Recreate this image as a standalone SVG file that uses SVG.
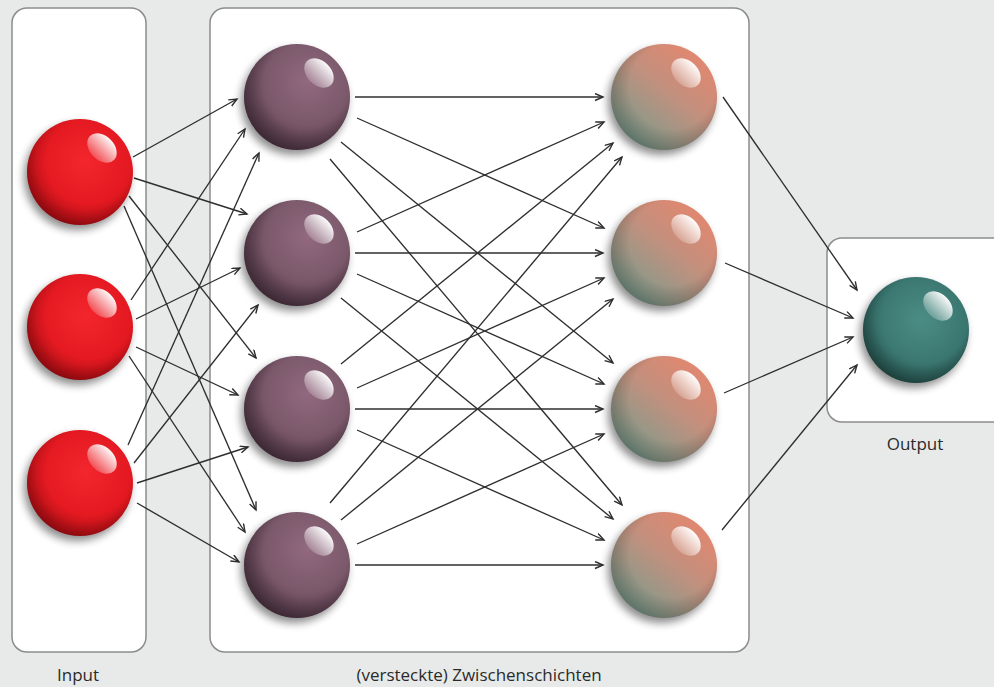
<svg xmlns="http://www.w3.org/2000/svg" width="994" height="687" viewBox="0 0 994 687">
<style>
.box{fill:#ffffff;stroke:#8c8c8c;stroke-width:1.5}
.c{stroke:#2e2e2e;stroke-width:1.35;fill:none;marker-end:url(#arr)}
.lbl{font-family:"Open Sans","Noto Sans","Liberation Sans",sans-serif;font-size:17px;fill:#2a2a2a;text-anchor:middle}
.shadow{fill:#000;opacity:0.45;filter:url(#blur)}
.edge{fill:url(#gEdge)}
.hl{fill:url(#gHl)}
</style>
<defs>
<marker id="arr" markerUnits="userSpaceOnUse" markerWidth="12" markerHeight="10" refX="9" refY="4" orient="auto">
<path d="M1,0.5 L9,4 L1,7.5" fill="none" stroke="#2e2e2e" stroke-width="1.4"/>
</marker>
<filter id="blur" x="-30%" y="-30%" width="160%" height="160%"><feGaussianBlur stdDeviation="4"/></filter>
<radialGradient id="gRed" cx="0.55" cy="0.4" r="0.62">
<stop offset="0" stop-color="#f3262d"/><stop offset="0.75" stop-color="#e2171f"/><stop offset="1" stop-color="#b50c13"/>
</radialGradient>
<radialGradient id="gPur" cx="0.6" cy="0.35" r="0.68">
<stop offset="0" stop-color="#92697f"/><stop offset="0.6" stop-color="#7a586a"/><stop offset="1" stop-color="#503545"/>
</radialGradient>
<linearGradient id="gSal" x1="0.85" y1="0.1" x2="0.2" y2="0.9">
<stop offset="0" stop-color="#e2876f"/><stop offset="0.45" stop-color="#c2907e"/><stop offset="1" stop-color="#7e9c8c"/>
</linearGradient>
<radialGradient id="gTeal" cx="0.55" cy="0.4" r="0.62">
<stop offset="0" stop-color="#4b8d85"/><stop offset="0.7" stop-color="#3a7670"/><stop offset="1" stop-color="#26544f"/>
</radialGradient>
<radialGradient id="gEdge" cx="0.58" cy="0.4" r="0.62">
<stop offset="0.65" stop-color="#000" stop-opacity="0"/><stop offset="1" stop-color="#000" stop-opacity="0.25"/>
</radialGradient>
<linearGradient id="gHl" x1="0" y1="0" x2="0" y2="1">
<stop offset="0" stop-color="#fff" stop-opacity="0.97"/><stop offset="1" stop-color="#fff" stop-opacity="0.2"/>
</linearGradient>
</defs>

<rect x="0" y="0" width="994" height="687" fill="#e8eaea"/>

<g id="layer-input"><rect class="box" x="12" y="8" width="134" height="644" rx="15"/></g>
<g id="layer-hidden"><rect class="box" x="210" y="8" width="539" height="644" rx="15"/></g>
<g id="layer-output"><rect class="box" x="827" y="238" width="190" height="184" rx="15"/></g>

<g id="connectors">
<line class="c" x1="133" y1="157" x2="237" y2="99"/>
<line class="c" x1="134" y1="178" x2="247" y2="214"/>
<line class="c" x1="129" y1="196" x2="256" y2="358"/>
<line class="c" x1="124" y1="206" x2="256" y2="510"/>
<line class="c" x1="131" y1="300" x2="245" y2="129"/>
<line class="c" x1="136" y1="319" x2="240" y2="268"/>
<line class="c" x1="136" y1="347" x2="238" y2="395"/>
<line class="c" x1="129" y1="356" x2="245" y2="532"/>
<line class="c" x1="128" y1="445" x2="259" y2="153"/>
<line class="c" x1="134" y1="463" x2="258" y2="305"/>
<line class="c" x1="137" y1="483" x2="248" y2="447"/>
<line class="c" x1="137" y1="503" x2="239" y2="562"/>

<line class="c" x1="355" y1="97" x2="603" y2="97"/>
<line class="c" x1="357" y1="118" x2="604" y2="228"/>
<line class="c" x1="341" y1="142" x2="613" y2="363"/>
<line class="c" x1="330" y1="159" x2="622" y2="505"/>
<line class="c" x1="357" y1="232" x2="604" y2="122"/>
<line class="c" x1="355" y1="253" x2="603" y2="253"/>
<line class="c" x1="357" y1="274" x2="604" y2="384"/>
<line class="c" x1="341" y1="298" x2="613" y2="519"/>
<line class="c" x1="341" y1="364" x2="613" y2="143"/>
<line class="c" x1="357" y1="388" x2="604" y2="278"/>
<line class="c" x1="355" y1="409" x2="603" y2="409"/>
<line class="c" x1="357" y1="430" x2="604" y2="540"/>
<line class="c" x1="330" y1="503" x2="622" y2="157"/>
<line class="c" x1="341" y1="520" x2="613" y2="299"/>
<line class="c" x1="357" y1="544" x2="604" y2="434"/>
<line class="c" x1="355" y1="565" x2="603" y2="565"/>

<line class="c" x1="723" y1="97" x2="857" y2="290"/>
<line class="c" x1="725" y1="263" x2="853" y2="318"/>
<line class="c" x1="724" y1="393" x2="853" y2="337"/>
<line class="c" x1="722" y1="530" x2="857" y2="365"/>
</g>

<g id="in1" transform="translate(80,172)"><circle class="shadow" cx="-3" cy="5" r="53"/><circle r="53" fill="url(#gRed)"/><circle r="53" class="edge"/><ellipse class="hl" rx="17" ry="12" transform="translate(22,-24) rotate(45)"/></g>
<g id="in2" transform="translate(80,327)"><circle class="shadow" cx="-3" cy="5" r="53"/><circle r="53" fill="url(#gRed)"/><circle r="53" class="edge"/><ellipse class="hl" rx="17" ry="12" transform="translate(22,-24) rotate(45)"/></g>
<g id="in3" transform="translate(80,483)"><circle class="shadow" cx="-3" cy="5" r="53"/><circle r="53" fill="url(#gRed)"/><circle r="53" class="edge"/><ellipse class="hl" rx="17" ry="12" transform="translate(22,-24) rotate(45)"/></g>

<g id="h1a" transform="translate(297,97)"><circle class="shadow" cx="-3" cy="5" r="53"/><circle r="53" fill="url(#gPur)"/><circle r="53" class="edge"/><ellipse class="hl" rx="17" ry="12" transform="translate(22,-24) rotate(45)"/></g>
<g id="h1b" transform="translate(297,253)"><circle class="shadow" cx="-3" cy="5" r="53"/><circle r="53" fill="url(#gPur)"/><circle r="53" class="edge"/><ellipse class="hl" rx="17" ry="12" transform="translate(22,-24) rotate(45)"/></g>
<g id="h1c" transform="translate(297,409)"><circle class="shadow" cx="-3" cy="5" r="53"/><circle r="53" fill="url(#gPur)"/><circle r="53" class="edge"/><ellipse class="hl" rx="17" ry="12" transform="translate(22,-24) rotate(45)"/></g>
<g id="h1d" transform="translate(297,565)"><circle class="shadow" cx="-3" cy="5" r="53"/><circle r="53" fill="url(#gPur)"/><circle r="53" class="edge"/><ellipse class="hl" rx="17" ry="12" transform="translate(22,-24) rotate(45)"/></g>

<g id="h2a" transform="translate(664,97)"><circle class="shadow" cx="-3" cy="5" r="53"/><circle r="53" fill="url(#gSal)"/><circle r="53" class="edge"/><ellipse class="hl" rx="17" ry="12" transform="translate(22,-24) rotate(45)"/></g>
<g id="h2b" transform="translate(664,253)"><circle class="shadow" cx="-3" cy="5" r="53"/><circle r="53" fill="url(#gSal)"/><circle r="53" class="edge"/><ellipse class="hl" rx="17" ry="12" transform="translate(22,-24) rotate(45)"/></g>
<g id="h2c" transform="translate(664,409)"><circle class="shadow" cx="-3" cy="5" r="53"/><circle r="53" fill="url(#gSal)"/><circle r="53" class="edge"/><ellipse class="hl" rx="17" ry="12" transform="translate(22,-24) rotate(45)"/></g>
<g id="h2d" transform="translate(664,565)"><circle class="shadow" cx="-3" cy="5" r="53"/><circle r="53" fill="url(#gSal)"/><circle r="53" class="edge"/><ellipse class="hl" rx="17" ry="12" transform="translate(22,-24) rotate(45)"/></g>

<g id="out1" transform="translate(916,330)"><circle class="shadow" cx="-3" cy="5" r="53"/><circle r="53" fill="url(#gTeal)"/><circle r="53" class="edge"/><ellipse class="hl" rx="17" ry="12" transform="translate(22,-24) rotate(45)"/></g>

<g id="labels">
<text class="lbl" x="78" y="681">Input</text>
<text class="lbl" x="479" y="681">(versteckte) Zwischenschichten</text>
<text class="lbl" x="915" y="450">Output</text>
</g>
</svg>
